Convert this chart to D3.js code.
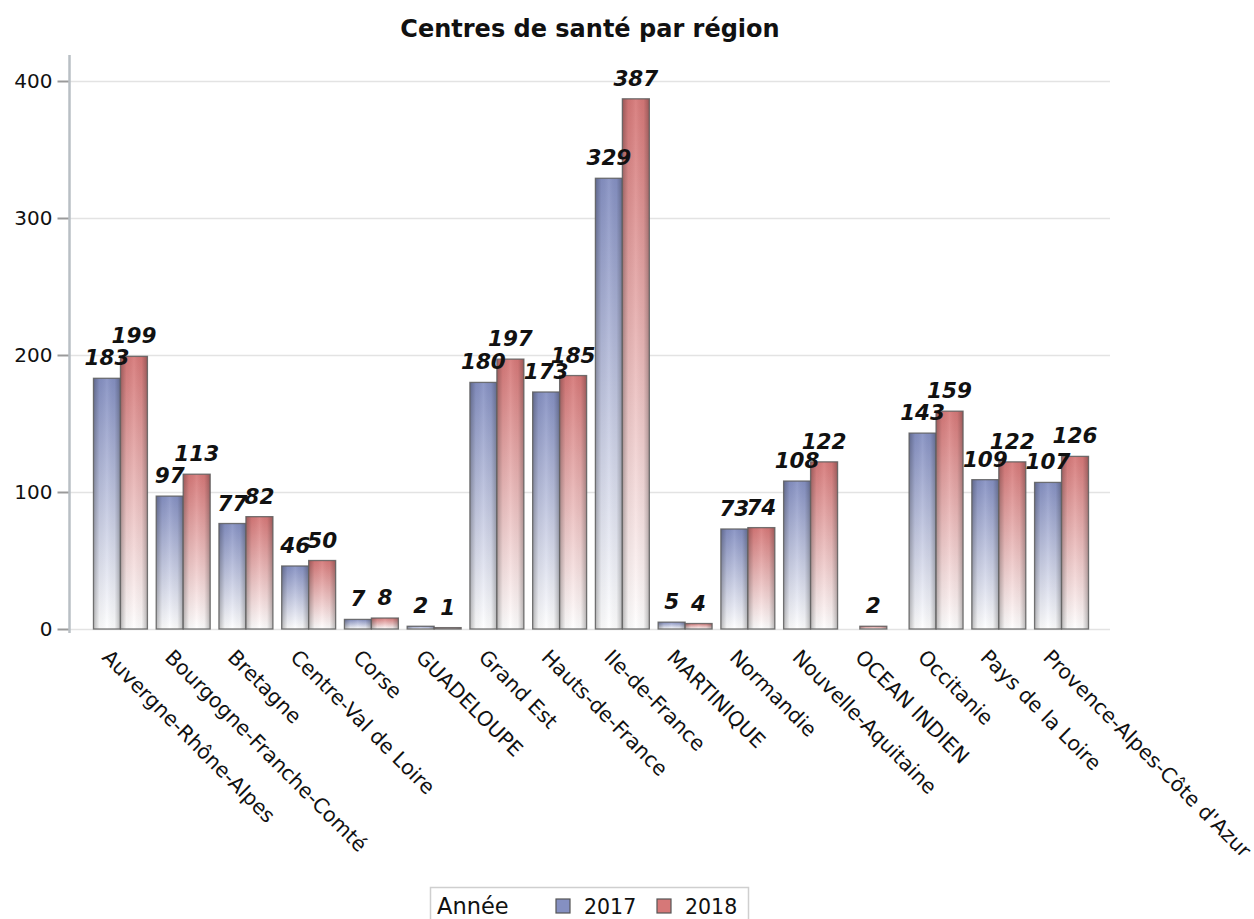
<!DOCTYPE html>
<html>
<head>
<meta charset="utf-8">
<script src="https://cdn.jsdelivr.net/npm/d3@7"></script>
<style>
  html, body { margin: 0; padding: 0; background: #fff; }
  svg { display: block; }
</style>
</head>
<body>
<svg id="chart" width="1254" height="919"></svg>
<script>
const regions = ["Auvergne-Rhône-Alpes","Bourgogne-Franche-Comté","Bretagne","Centre-Val de Loire","Corse","GUADELOUPE","Grand Est","Hauts-de-France","Ile-de-France","MARTINIQUE","Normandie","Nouvelle-Aquitaine","OCEAN INDIEN","Occitanie","Pays de la Loire","Provence-Alpes-Côte d'Azur"];
const years = ["2017","2018"];
const values2017 = [183,97,77,46,7,2,180,173,329,5,73,108,null,143,109,107];
const values2018 = [199,113,82,50,8,1,197,185,387,4,74,122,2,159,122,126];
const yTicks = [0,100,200,300,400];
const titleText = "Centres de santé par région";
const legendTitle = "Année";

const W = 1254, H = 919;
const svg = d3.select("#chart");
svg.append("rect").attr("width", W).attr("height", H).attr("fill", "#fff");

const colors = {"2017": "#8590c2", "2018": "#d67878"};

const defs = svg.append("defs");
years.forEach(yr => {
  const g = defs.append("linearGradient").attr("id", "vg" + yr)
    .attr("x1", 0).attr("y1", 0).attr("x2", 0).attr("y2", 1);
  g.append("stop").attr("offset", "0%").attr("stop-color", colors[yr]);
  g.append("stop").attr("offset", "100%").attr("stop-color", "#ffffff");
});
const hg = defs.append("linearGradient").attr("id", "hshade")
  .attr("x1", 0).attr("y1", 0).attr("x2", 1).attr("y2", 0);
hg.append("stop").attr("offset", "0%").attr("stop-color", "#000").attr("stop-opacity", 0.28);
hg.append("stop").attr("offset", "22%").attr("stop-color", "#000").attr("stop-opacity", 0.04);
hg.append("stop").attr("offset", "50%").attr("stop-color", "#fff").attr("stop-opacity", 0.08);
hg.append("stop").attr("offset", "78%").attr("stop-color", "#000").attr("stop-opacity", 0.04);
hg.append("stop").attr("offset", "100%").attr("stop-color", "#000").attr("stop-opacity", 0.28);

const x = d3.scaleBand().domain(regions).range([69, 1113]).paddingInner(0.14).paddingOuter(0.39);
const xs = d3.scaleBand().domain(years).range([0, x.bandwidth()]);
const y = d3.scaleLinear().domain([0, 400]).range([629, 81]);

// gridlines
svg.append("g").selectAll("line").data(yTicks).join("line")
  .attr("x1", 70).attr("x2", 1110)
  .attr("y1", d => Math.round(y(d)) + 0.5).attr("y2", d => Math.round(y(d)) + 0.5)
  .attr("stroke", "#e3e3e3").attr("stroke-width", 1.5);

// y axis
const yAxis = d3.axisLeft(y).tickValues(yTicks).tickSize(12).tickPadding(5).tickFormat(d3.format("d"));
const gy = svg.append("g").attr("transform", "translate(69.5,0)").call(yAxis);
gy.select(".domain").remove();
gy.selectAll(".tick line").attr("stroke", "#9a9a9a").attr("stroke-width", 2);
gy.selectAll(".tick text").attr("font-family", "DejaVu Sans").attr("font-size", 20).attr("fill", "#111");
svg.append("line").attr("x1", 69.5).attr("x2", 69.5).attr("y1", 55).attr("y2", 633)
  .attr("stroke", "#b9bfc4").attr("stroke-width", 2.5);

// bars
const rows = [];
regions.forEach((r, i) => {
  const vals = {"2017": values2017[i], "2018": values2018[i]};
  const present = years.filter(yr => vals[yr] !== null);
  present.forEach(yr => {
    let bx;
    if (present.length === 1) bx = x(r) + (x.bandwidth() - xs.bandwidth()) / 2;
    else bx = x(r) + xs(yr);
    rows.push({region: r, year: yr, value: vals[yr], x: bx});
  });
});

const bars = svg.append("g").selectAll("g").data(rows).join("g");
bars.append("rect")
  .attr("x", d => d.x).attr("width", xs.bandwidth())
  .attr("y", d => y(d.value)).attr("height", d => y(0) - y(d.value))
  .attr("fill", d => "url(#vg" + d.year + ")");
bars.append("rect")
  .attr("x", d => d.x).attr("width", xs.bandwidth())
  .attr("y", d => y(d.value)).attr("height", d => y(0) - y(d.value))
  .attr("fill", "url(#hshade)")
  .attr("stroke", "#5e5e5e").attr("stroke-width", 1.3).attr("stroke-opacity", 0.85);

// bar labels
svg.append("g").selectAll("text").data(rows).join("text")
  .attr("x", d => d.x + xs.bandwidth() / 2)
  .attr("y", d => y(d.value) - 13)
  .attr("text-anchor", "middle")
  .attr("font-family", "DejaVu Sans").attr("font-weight", "bold").attr("font-style", "italic")
  .attr("font-size", 21.5).attr("fill", "#111")
  .text(d => d.value);

// x labels
svg.append("g").selectAll("text").data(regions).join("text")
  .attr("transform", d => `translate(${x(d) + x.bandwidth() / 2 - 9},648) rotate(45)`)
  .attr("dy", "0.72em")
  .attr("font-family", "DejaVu Sans").attr("font-size", 20.5).attr("fill", "#111")
  .text(d => d);

// title
svg.append("text").attr("x", 590).attr("y", 37).attr("text-anchor", "middle")
  .attr("font-family", "DejaVu Sans").attr("font-weight", "bold").attr("font-size", 24)
  .attr("fill", "#111").text(titleText);

// legend
const lg = svg.append("g");
lg.append("rect").attr("x", 430.5).attr("y", 887.5).attr("width", 318).attr("height", 40)
  .attr("fill", "none").attr("stroke", "#cfcfcf").attr("stroke-width", 1.5);
lg.append("text").attr("x", 437).attr("y", 914).attr("font-family", "DejaVu Sans")
  .attr("font-size", 22.5).attr("fill", "#111").text(legendTitle);
const legX = {"2017": 556, "2018": 657};
years.forEach(yr => {
  lg.append("rect").attr("x", legX[yr]).attr("y", 899).attr("width", 14).attr("height", 14)
    .attr("fill", colors[yr]).attr("stroke", "#555").attr("stroke-width", 1.2);
  lg.append("text").attr("x", legX[yr] + 28).attr("y", 914).attr("font-family", "DejaVu Sans")
    .attr("font-size", 20.5).attr("fill", "#111").text(yr);
});
</script>
</body>
</html>
